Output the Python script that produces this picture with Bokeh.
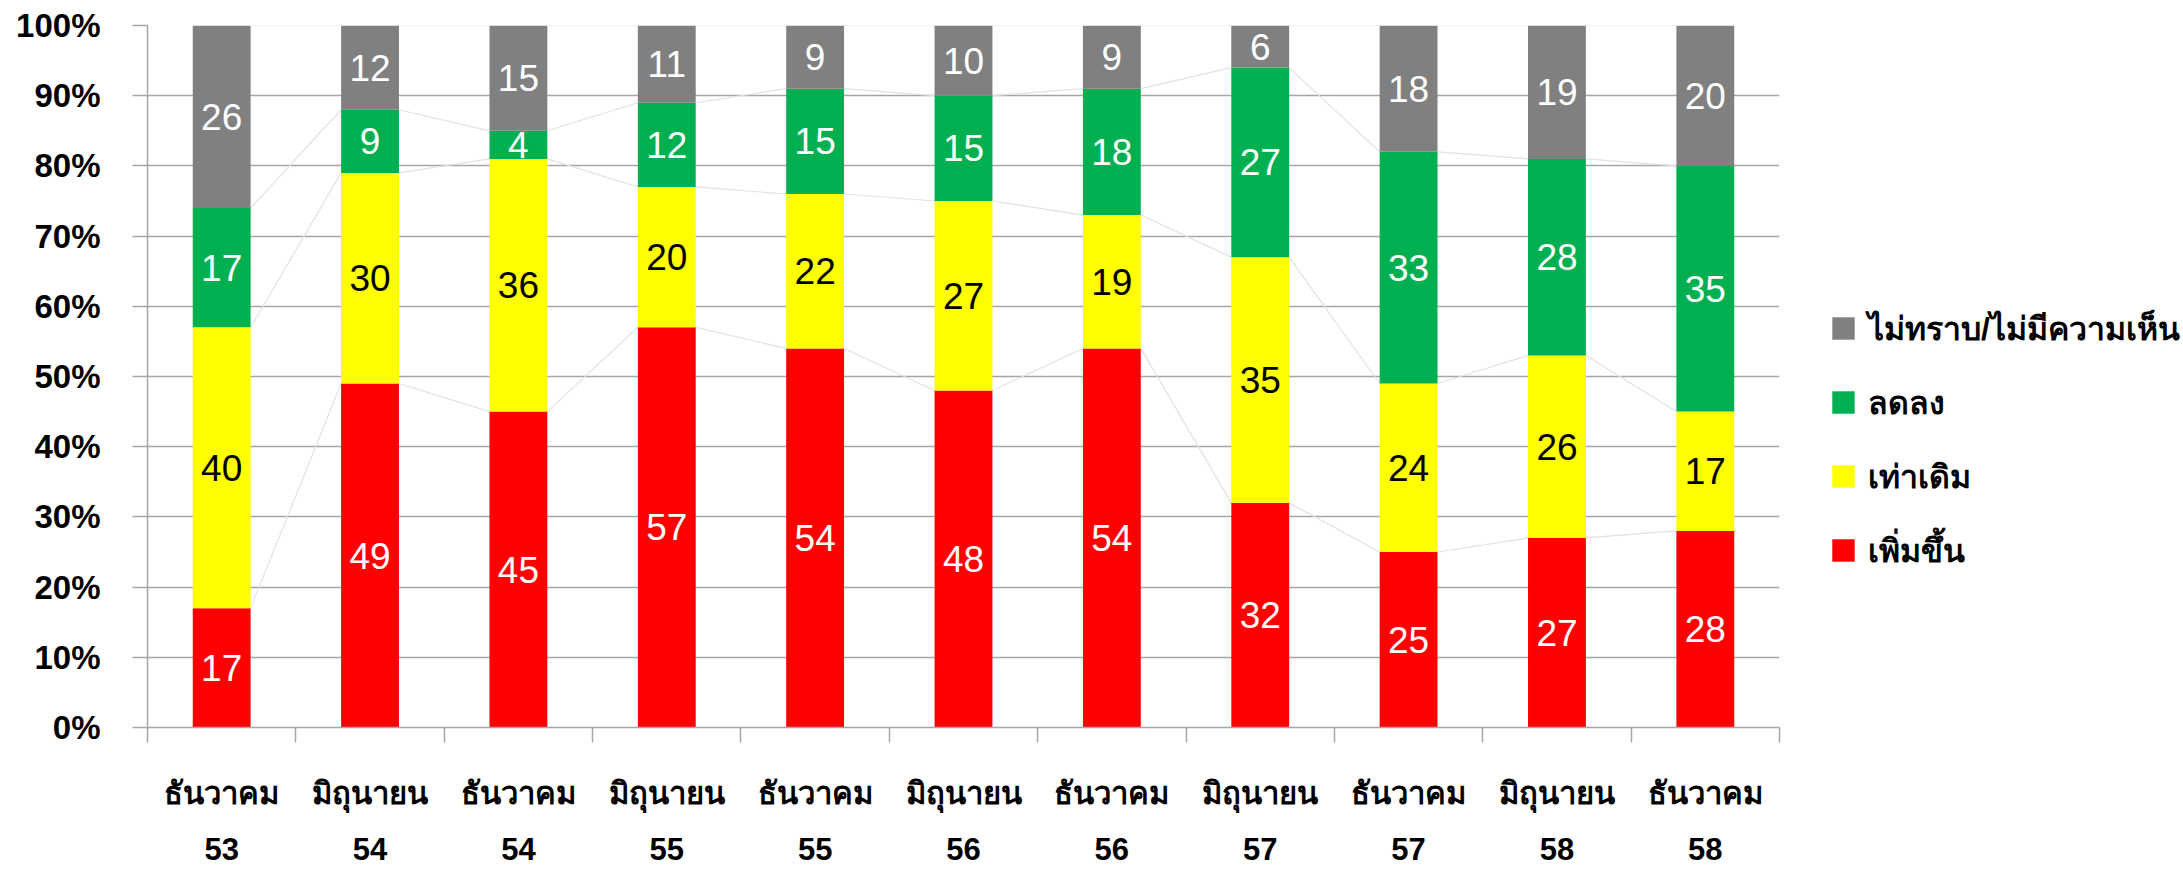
from bokeh.plotting import figure
from bokeh.layouts import row
from bokeh.models import ColumnDataSource, FixedTicker, Range1d, Legend, LegendItem
from bokeh.core.properties import value
from bokeh.embed import file_html
from bokeh.resources import INLINE

months = ["ธันวาคม", "มิถุนายน", "ธันวาคม", "มิถุนายน", "ธันวาคม", "มิถุนายน",
          "ธันวาคม", "มิถุนายน", "ธันวาคม", "มิถุนายน", "ธันวาคม"]
years = ["53", "54", "54", "55", "55", "56", "56", "57", "57", "58", "58"]

increase = [17, 49, 45, 57, 54, 48, 54, 32, 25, 27, 28]
same = [40, 30, 36, 20, 22, 27, 19, 35, 24, 26, 17]
decrease = [17, 9, 4, 12, 15, 15, 18, 27, 33, 28, 35]
unknown = [26, 12, 15, 11, 9, 10, 9, 6, 18, 19, 20]

series_names = ["เพิ่มขึ้น", "เท่าเดิม", "ลดลง", "ไม่ทราบ/ไม่มีความเห็น"]
series_colors = ["#FF0000", "#FFFF00", "#00B050", "#808080"]
label_colors = ["white", "black", "white", "white"]
y_ticks = [0, 10, 20, 30, 40, 50, 60, 70, 80, 90, 100]

n = len(years)
xs = [i + 0.5 for i in range(n)]
BAR_W = 0.39
series = [increase, same, decrease, unknown]
keys = ["inc", "same", "dec", "unk"]

data = {"x": xs}
for k, s in zip(keys, series):
    data[k] = s
src = ColumnDataSource(data)

p = figure(width=1800, height=869, output_backend="svg", toolbar_location=None,
           x_range=Range1d(0, n), y_range=Range1d(0, 100),
           min_border_left=147, min_border_right=21, min_border_top=25, min_border_bottom=141)
p.outline_line_color = None
p.background_fill_color = "white"

# gridlines
p.xgrid.visible = False
p.ygrid.ticker = FixedTicker(ticks=y_ticks)
p.ygrid.grid_line_color = "#a6a6a6"
p.ygrid.grid_line_width = 1.5

# series lines (connect cumulative tops between neighbouring bars)
cums = []
run = [0] * n
for s in series:
    run = [a + b for a, b in zip(run, s)]
    cums.append(run[:])
sx0, sy0, sx1, sy1 = [], [], [], []
for c in cums:
    for i in range(n - 1):
        sx0.append(xs[i] + BAR_W / 2)
        sx1.append(xs[i + 1] - BAR_W / 2)
        sy0.append(c[i])
        sy1.append(c[i + 1])
p.segment(x0=sx0, y0=sy0, x1=sx1, y1=sy1, line_color="#e2e2e2", line_width=1.2)

renderers = p.vbar_stack(keys, x="x", width=BAR_W, color=series_colors, source=src,
                         line_color=None)

# data labels
lx, ly, lt, lc = [], [], [], []
base = [0] * n
for s, col in zip(series, label_colors):
    for i in range(n):
        lx.append(xs[i])
        ly.append(base[i] + s[i] / 2)
        lt.append(str(s[i]))
        lc.append(col)
    base = [a + b for a, b in zip(base, s)]
lsrc = ColumnDataSource(dict(x=lx, y=ly, t=lt, c=lc))
p.text(x="x", y="y", text="t", text_color="c", source=lsrc, text_align="center",
       text_baseline="middle", text_font=value("Liberation Sans"), text_font_size="37px")

# axes
axis_col = "#a6a6a6"
p.yaxis.ticker = FixedTicker(ticks=y_ticks)
p.yaxis.major_label_overrides = {t: f"{t}%" for t in y_ticks}
p.yaxis.major_tick_out = 15
p.yaxis.major_tick_in = 0
p.yaxis.minor_tick_line_color = None
p.yaxis.axis_line_color = axis_col
p.yaxis.axis_line_width = 1.5
p.yaxis.major_tick_line_color = axis_col
p.yaxis.major_tick_line_width = 1.5
p.yaxis.major_label_standoff = 32
p.yaxis.major_label_text_font = "Liberation Sans"
p.yaxis.major_label_text_font_style = "bold"
p.yaxis.major_label_text_font_size = "33px"
p.yaxis.major_label_text_color = "black"

p.xaxis.ticker = FixedTicker(ticks=xs, minor_ticks=list(range(n + 1)))
p.xaxis.major_label_overrides = {x: f"{m}\n{y}" for x, m, y in zip(xs, months, years)}
p.xaxis.major_tick_line_color = None
p.xaxis.major_tick_out = 15
p.xaxis.major_tick_in = 0
p.xaxis.minor_tick_out = 15
p.xaxis.minor_tick_in = 0
p.xaxis.minor_tick_line_color = axis_col
p.xaxis.minor_tick_line_width = 1.5
p.xaxis.axis_line_color = axis_col
p.xaxis.axis_line_width = 1.5
p.xaxis.major_label_standoff = 33
p.xaxis.major_label_text_font = "Liberation Sans"
p.xaxis.major_label_text_font_style = "bold"
p.xaxis.major_label_text_font_size = "31px"
p.xaxis.major_label_text_color = "black"
p.xaxis.major_label_text_line_height = 1.6

# legend panel (separate canvas to the right of the chart); the swatch renderers use
# the same data but sit outside this panel's visible range
lg = figure(width=383, height=869, output_backend="svg", toolbar_location=None,
            x_range=Range1d(-100, -99), y_range=Range1d(0, 1),
            min_border_left=0, min_border_right=0, min_border_top=0, min_border_bottom=0)
lg.axis.visible = False
lg.grid.visible = False
lg.outline_line_color = None
swatches = lg.vbar_stack(keys, x="x", width=BAR_W, color=series_colors, source=src,
                         line_color=None)
items = [LegendItem(label=series_names[k], renderers=[swatches[k]]) for k in [3, 2, 1, 0]]
legend = Legend(items=items, location=(29, 150), glyph_width=28, glyph_height=28,
                label_standoff=11, label_height=54, spacing=20, padding=0, margin=0,
                border_line_color=None, background_fill_alpha=0,
                label_text_font="Liberation Sans", label_text_font_style="bold",
                label_text_font_size="32px", label_text_color="black")
lg.add_layout(legend, "center")

layout = row(p, lg, spacing=0)
open("out.html", "w").write(file_html(layout, INLINE))
